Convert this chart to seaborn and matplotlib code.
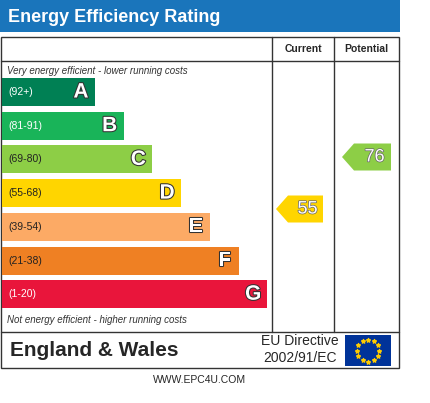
import matplotlib
matplotlib.use("Agg")
import matplotlib.pyplot as plt
import matplotlib.patheffects as pe
import seaborn as sns
import numpy as np
from matplotlib.patches import Rectangle, Polygon

sns.set_theme(style="white")
plt.rcParams['font.family'] = ['Liberation Sans', 'DejaVu Sans']

bands = ["A", "B", "C", "D", "E", "F", "G"]
ranges = ["(92+)", "(81-91)", "(69-80)", "(55-68)", "(39-54)", "(21-38)", "(1-20)"]
colors = ["#008054", "#19b459", "#8dce46", "#ffd500", "#fcaa65", "#ef8023", "#e9153b"]
lows = [92, 81, 69, 55, 39, 21, 1]
current = 55
potential = 76

W, H = 430, 403
fig = plt.figure(figsize=(4.30, 4.03), dpi=100)
ax = fig.add_axes([0, 0, 1, 1])
ax.set_xlim(0, W)
ax.set_ylim(H, 0)
ax.axis("off")

ax.add_patch(Rectangle((0, 0), 400, 32, color="#1a75bb", lw=0))
ax.text(8, 17, "Energy Efficiency Rating", color="white", fontsize=13, fontweight="bold", va="center")

ax.add_patch(Rectangle((1, 37), 398, 331, fill=False, ec="#333333", lw=1))
for x in (272, 334):
    ax.plot([x, x], [37, 332], color="#333333", lw=1)
ax.plot([1, 399], [61, 61], color="#333333", lw=1)
ax.plot([1, 399], [332, 332], color="#333333", lw=1)
ax.text(303, 49, "Current", fontsize=7.5, fontweight="bold", ha="center", va="center")
ax.text(366, 49, "Potential", fontsize=7.5, fontweight="bold", ha="center", va="center")
ax.text(7, 71, "Very energy efficient - lower running costs", fontsize=7, style="italic", va="center", color="#333")
ax.text(7, 320, "Not energy efficient - higher running costs", fontsize=7, style="italic", va="center", color="#333")

tops = [78 + i * 33.7 for i in range(7)]
widths = [93 + i * 28.7 for i in range(7)]
bh = 28
ax.barh([t + bh / 2 for t in tops], widths, height=bh, left=2, color=colors, edgecolor="none")
for i, b in enumerate(bands):
    yc = tops[i] + bh / 2
    ax.text(8, yc, ranges[i], fontsize=7.5, color="white" if i in (0, 1, 6) else "#222", va="center")
    ax.text(widths[i] - 12, yc, b, fontsize=15, fontweight="bold", color="white", va="center", ha="center",
            path_effects=[pe.withStroke(linewidth=1.5, foreground="#333")])

def band_of(v):
    for i, lo in enumerate(lows):
        if v >= lo:
            return i
    return 6

def arrow(x0, x1, v, yc):
    i = band_of(v)
    h = 27
    pts = [(x0, yc), (x0 + 12, yc - h / 2), (x1, yc - h / 2), (x1, yc + h / 2), (x0 + 12, yc + h / 2)]
    ax.add_patch(Polygon(pts, closed=True, color=colors[i], lw=0))
    ax.text((x0 + 12 + x1) / 2 + 2, yc, str(v), fontsize=13, color="white", ha="center", va="center",
            path_effects=[pe.withStroke(linewidth=1, foreground="#666")])

arrow(276, 323, current, 209)
arrow(342, 391, potential, 157)

ax.text(10, 351, "England & Wales", fontsize=15, fontweight="bold", va="center")
ax.text(300, 341, "EU Directive", fontsize=10, ha="center", va="center")
ax.text(300, 358, "2002/91/EC", fontsize=10, ha="center", va="center")
ax.add_patch(Rectangle((345, 335), 46, 31, color="#003399", lw=0))
ang = np.linspace(0, 2 * np.pi, 13)[:-1]
ax.scatter(368 + 11 * np.cos(ang), 350.5 + 11 * np.sin(ang), marker="*", s=8, color="#ffcc00", zorder=5)
ax.text(200, 380, "WWW.EPC4U.COM", fontsize=7.5, ha="center", va="center")

fig.savefig("out.png", dpi=100)
